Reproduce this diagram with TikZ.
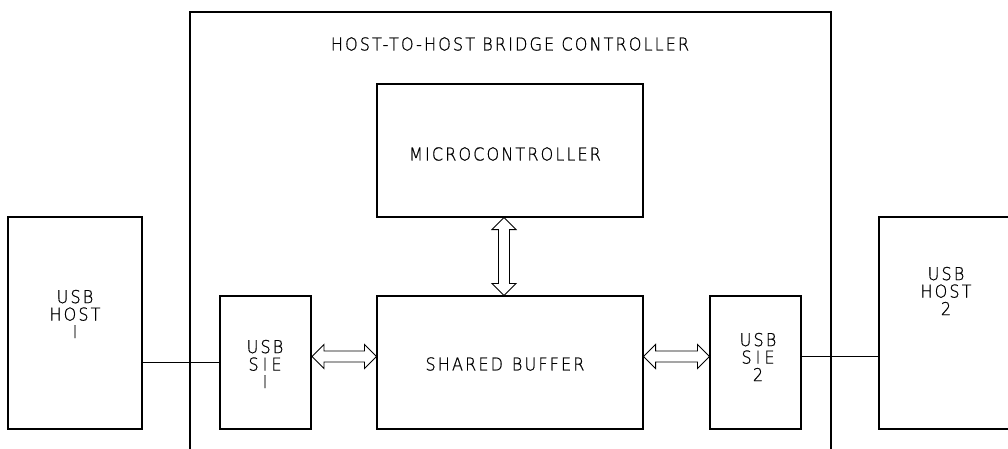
\documentclass[tikz,border=0pt]{standalone}
\usepackage{fontspec}
\setsansfont{DejaVu Sans ExtraLight}[FakeStretch=0.9,LetterSpace=12,FakeBold=0.8]
\usetikzlibrary{calc}
\newcommand{\sie}{S\kern4pt I\kern4pt E}
\begin{document}
\begin{tikzpicture}[x=1pt,y=-1pt,
  box/.style={draw,line width=1.1pt,inner sep=0pt,minimum width=#1},
  lbl/.style={font=\sffamily\fontsize{17.8}{17.5}\selectfont,align=center,inner sep=0pt},
  wire/.style={line width=1.1pt},
  fat/.style={draw,line width=0.9pt,line join=miter}]
\useasboundingbox (0,0) rectangle (1008,448);
% outer controller frame
\coordinate (fbl) at (190,449);
\coordinate (ftl) at (190,12);
\coordinate (ftr) at (831,12);
\coordinate (fbr) at (831,449);
\draw[wire] (fbl) -- (ftl) -- (ftr) -- (fbr);
\node[lbl] (title) at (510,44) {HOST-TO-HOST BRIDGE CONTROLLER};
% blocks
\node[box=266pt,minimum height=133pt] (micro) at (510,150.5) {};
\node[lbl] (microl) at (505,154) {MICROCONTROLLER};
\node[box=266pt,minimum height=133pt] (buf) at (510,362.5) {};
\node[lbl] (bufl) at (505,364) {SHARED\hspace{0.5em}BUFFER};
\node[box=91pt,minimum height=133pt,line width=2pt] (sie1) at (265.5,362.5) {};
\node[lbl] (sie1l) at (265,364) {USB\\\sie\\I};
\node[box=91pt,minimum height=133pt] (sie2) at (755.5,362.5) {};
\node[lbl] (sie2l) at (758,357) {USB\\\sie\\2};
\node[box=134pt,minimum height=212pt] (host1) at (75,323) {};
\node[lbl] (host1l) at (75,314) {USB\\HOST\\I};
\node[box=134pt,minimum height=212pt] (host2) at (946,323) {};
\node[lbl] (host2l) at (946,291) {USB\\HOST\\2};
% wires
\draw[wire] (host1.east |- sie1.west) -- (sie1.west);
\draw[wire] ([yshift=6pt]sie2.east) -- ([yshift=6pt]sie2.east -| host2.west);
% double arrows
\newcommand{\dblh}[2]{%
  \draw[fat] let \p1=(#1), \p2=(#2) in
   (\x1,\y1) -- (\x1+12pt,\y1+12pt) -- (\x1+12pt,\y1+5.5pt) -- (\x2-12pt,\y1+5.5pt)
   -- (\x2-12pt,\y1+12pt) -- (\x2,\y1) -- (\x2-12pt,\y1-12pt) -- (\x2-12pt,\y1-5.5pt)
   -- (\x1+12pt,\y1-5.5pt) -- (\x1+12pt,\y1-12pt) -- cycle;}
\dblh{[yshift=6pt]sie1.east}{[yshift=6pt]buf.west}
\dblh{[yshift=6pt]buf.east}{[yshift=6pt]sie2.west}
\draw[fat] let \p1=([xshift=-6pt]micro.south), \p2=([xshift=-6pt]buf.north) in
   (\x1,\y1) -- (\x1+12pt,\y1-12pt) -- (\x1+5.5pt,\y1-12pt) -- (\x1+5.5pt,\y2+12pt)
   -- (\x1+12pt,\y2+12pt) -- (\x1,\y2) -- (\x1-12pt,\y2+12pt) -- (\x1-5.5pt,\y2+12pt)
   -- (\x1-5.5pt,\y1-12pt) -- (\x1-12pt,\y1-12pt) -- cycle;
\end{tikzpicture}
\end{document}
